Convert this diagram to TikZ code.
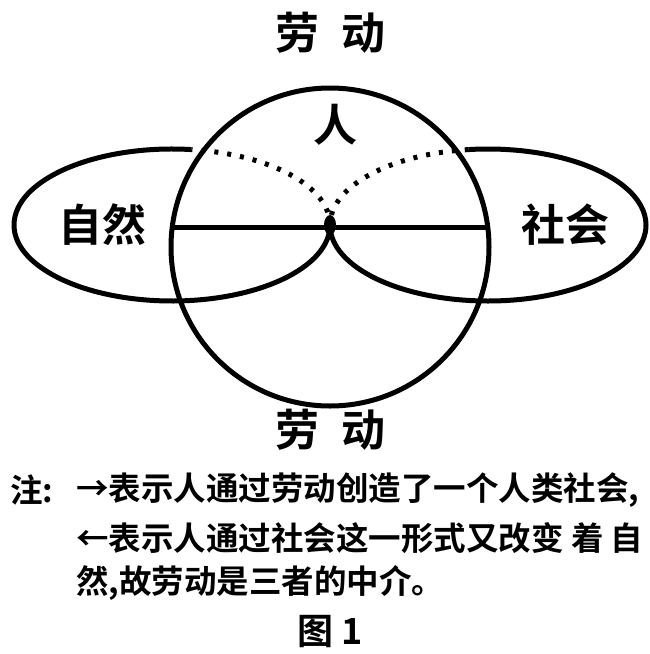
\documentclass[tikz,border=0pt]{standalone}
\usepackage{fontspec}
\setmainfont{Noto Sans CJK SC}[BoldFont={* Bold}]
\begin{document}
\begin{tikzpicture}[x=1pt,y=-1pt,
  solid line/.style={line width=5pt},
  dot line/.style={line width=5pt,dash pattern=on 4pt off 9pt},
  lab/.style={font=\fontsize{44}{44}\selectfont\bfseries,inner sep=0pt},
  note/.style={font=\fontsize{32.5}{32}\selectfont\bfseries,inner sep=0pt,anchor=west}]
\useasboundingbox (0,0) rectangle (649,654);
\coordinate (C) at (330,247);
\coordinate (L) at (172,225);
\coordinate (R) at (488,225);
\coordinate (K) at (330,225);
\draw[solid line] (C) circle[radius=159];
% left ellipse
\draw[solid line] (L) ++(-83:158 and 76) arc[start angle=-83,end angle=-360,x radius=158,y radius=76];
\draw[dot line] (L) ++(0:158 and 76) arc[start angle=0,end angle=-83,x radius=158,y radius=76];
% right ellipse
\draw[solid line] (R) ++(-180:158 and 76) arc[start angle=-180,end angle=-457,x radius=158,y radius=76];
\draw[dot line] (R) ++(-97:158 and 76) arc[start angle=-97,end angle=-180,x radius=158,y radius=76];
\draw[solid line] (171,227) -- (489,227);
\fill (K) ellipse[x radius=6,y radius=10];
\node[lab] (t1) at (330,33) {劳\hspace{0.5em}动};
\node[lab] (t2) at (330,430) {劳\hspace{0.5em}动};
\node[lab] (ren) at (335,125) {人};
\node[lab] (zr) at (102,225) {自然};
\node[lab] (sh) at (565,225) {社会};
\node[note] (n0) at (10,490) {注:};
\node[note] (n1) at (76,490) {→表示人通过劳动创造了一个人类社会,};
\node[note] (n2) at (76,538) {←表示人通过社会这一形式又改变 着 自};
\node[note] (n3) at (76,583) {然,故劳动是三者的中介。};
\node[font=\fontsize{36}{36}\selectfont\bfseries,inner sep=0pt] (fig) at (330,632) {图 1};
\end{tikzpicture}
\end{document}
